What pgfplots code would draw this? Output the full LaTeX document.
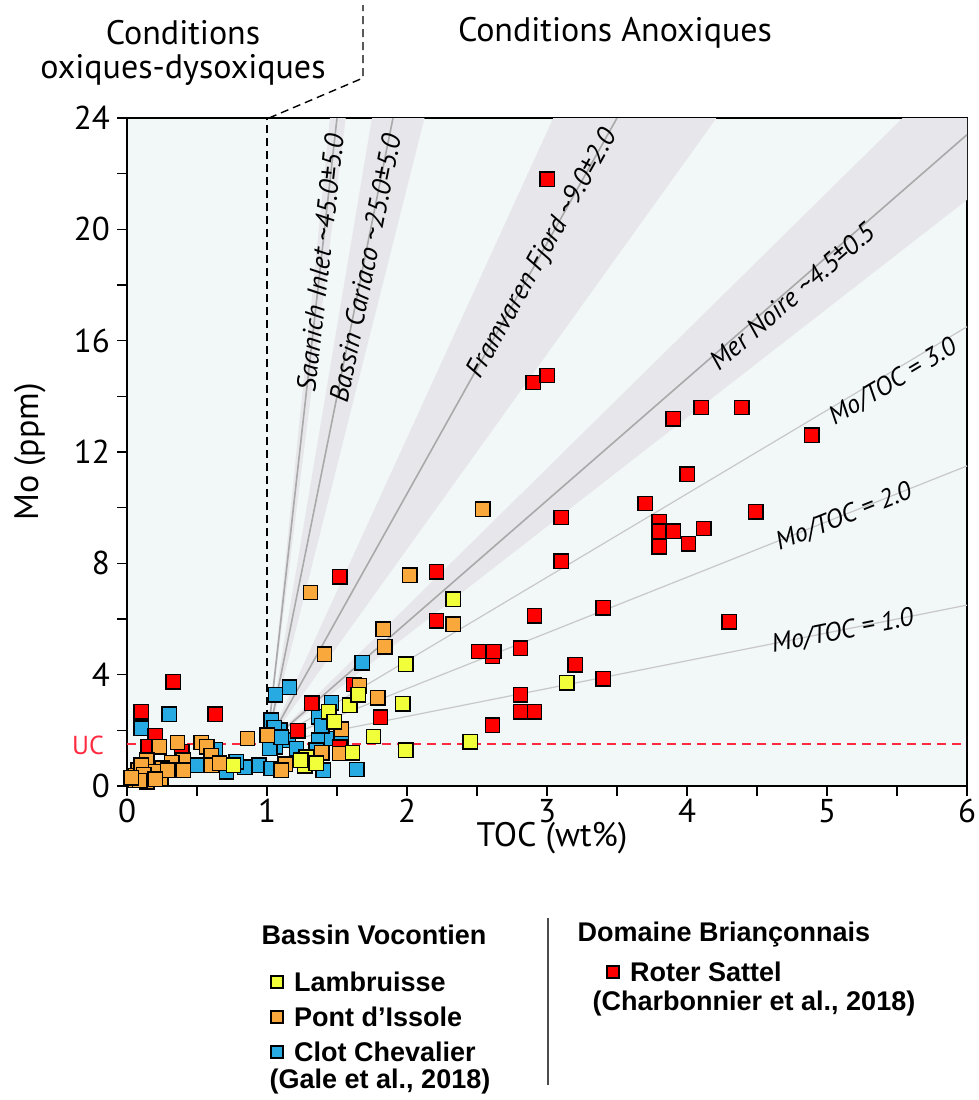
\documentclass[border=0pt]{standalone}
\usepackage{fontspec}
\setmainfont{PT Sans}
\newfontfamily\legfont{Liberation Sans}
\usepackage{pgfplots}
\pgfplotsset{compat=1.18}
\definecolor{bgc}{HTML}{F2F7F7}
\definecolor{bandc}{HTML}{E7E6EB}
\definecolor{linec}{HTML}{A9A9A9}
\definecolor{ratioc}{HTML}{C8C8C8}
\definecolor{cyel}{HTML}{F0FF3A}
\definecolor{corg}{HTML}{F9A93B}
\definecolor{cblu}{HTML}{27A9E1}
\definecolor{cred}{HTML}{FF0000}
\definecolor{ucred}{HTML}{FF2A3F}
\newcommand\fs[1]{\fontsize{#1}{#1}\selectfont}

\begin{document}
\begin{tikzpicture}[x=0.5pt,y=-0.5pt]
\useasboundingbox (0,0) rectangle (979,1100);
\begin{axis}[
  at={(63.5pt,-393pt)}, anchor=south west,
  scale only axis, width=420pt, height=334pt,
  xmin=0, xmax=6, ymin=0, ymax=24,
  xtick={0,1,...,6}, ytick={0,4,...,24},
  minor xtick={0.5,1.5,...,5.5}, minor ytick={2,6,...,22},
  xtick pos=bottom, ytick pos=left, tick align=outside,
  major tick length=5pt, minor tick length=5pt,
  every tick/.style={black, line width=0.8pt},
  axis line style={line width=1pt},
  axis background/.style={fill=bgc},
  tick label style={font=\fs{16.5}},
  xticklabel style={yshift=2pt},
  /pgf/number format/assume math mode=true,
  clip mode=individual,
]
% reference bands
\addplot[draw=none, fill=bandc] coordinates {(1,1.5) (1.45,24) (1.5625,24)} -- cycle;
\addplot[draw=none, fill=bandc] coordinates {(1,1.5) (1.75,24) (2.125,24)} -- cycle;
\addplot[draw=none, fill=bandc] coordinates {(1,1.5) (3.045,24) (4.21,24)} -- cycle;
\addplot[draw=none, fill=bandc] coordinates {(1,1.5) (5.54,24) (6,24) (6,21.06)} -- cycle;
% reference lines
\addplot[linec, line width=0.8pt] coordinates {(1,1.5) (1.5,24)};
\addplot[linec, line width=0.8pt] coordinates {(1,1.5) (1.9,24)};
\addplot[linec, line width=0.8pt] coordinates {(1,1.5) (3.5,24)};
\addplot[linec, line width=0.8pt] coordinates {(1,1.5) (6,23.4)};
\addplot[ratioc, line width=0.6pt] coordinates {(1,1.5) (6,16.5)};
\addplot[ratioc, line width=0.6pt] coordinates {(1,1.5) (6,11.5)};
\addplot[ratioc, line width=0.6pt] coordinates {(1,1.5) (6,6.5)};
% UC and boundary
\addplot[ucred, line width=0.8pt, dash pattern=on 4.5pt off 3pt] coordinates {(0,1.5) (6,1.5)};
\addplot[black, line width=0.7pt, dash pattern=on 4pt off 2.5pt] coordinates {(1,1.5) (1,24)};
% Clot Chevalier
\addplot[only marks, mark=square*, mark size=3.6pt, mark options={fill=cblu, draw=black, line width=0.7pt}] coordinates {
(1.68,4.42) (1.16,3.55) (1.06,3.27) (1.46,2.99) (1.37,2.49) (1.03,2.37) (1.09,2.01)
(1.15,1.65) (1.06,1.41) (1.37,1.65) (1.46,1.71) (0.94,0.75) (1.03,0.63) (1.40,0.57)
(1.64,0.59) (1.21,1.35) (1.35,1.29) (1.53,1.65) (1.39,2.16) (1.02,1.35) (0.30,2.58)
(0.10,2.07) (0.50,0.75) (0.71,0.51) (0.84,0.67) (0.78,0.87) (0.63,1.30) (1.05,2.10)
(1.10,1.75)};
% Roter Sattel
\addplot[only marks, mark=square*, mark size=3.6pt, mark options={fill=cred, draw=black, line width=0.7pt}] coordinates {
(3.0,21.8) (2.90,14.5) (3.0,14.75) (3.90,13.2) (4.10,13.6) (4.39,13.6) (4.89,12.6)
(4.0,11.2) (3.70,10.15) (3.80,9.5) (3.80,9.15) (3.90,9.15) (4.12,9.25) (3.80,8.6)
(4.01,8.7) (4.49,9.85) (3.40,6.4) (4.30,5.9) (3.40,3.85) (3.10,9.65) (3.10,8.08)
(2.91,6.12) (2.21,7.69) (1.52,7.51) (2.21,5.93) (2.51,4.83) (2.61,4.65) (2.62,4.83)
(2.81,4.95) (3.20,4.35) (2.81,3.27) (2.81,2.67) (2.91,2.67) (2.61,2.19) (1.62,3.65)
(1.32,2.97) (1.81,2.47) (1.22,1.99) (1.52,1.39) (0.33,3.75) (0.10,2.67) (0.63,2.58)
(0.20,1.80) (0.15,1.41) (0.39,1.23)};
% Pont d'Issole
\addplot[only marks, mark=square*, mark size=3.6pt, mark options={fill=corg, draw=black, line width=0.7pt}] coordinates {
(2.54,9.95) (2.02,7.58) (1.31,6.95) (2.33,5.81) (1.83,5.64) (1.84,5.0) (1.41,4.73)
(1.66,3.60) (1.79,3.17) (1.00,1.82) (1.53,2.04) (1.39,1.20) (1.52,1.17) (1.13,0.79)
(1.10,0.57) (0.86,1.71) (0.53,1.56) (0.57,1.41) (0.36,1.56) (0.23,1.41) (0.60,1.08)
(0.60,0.75) (0.66,0.82) (0.40,0.93) (0.32,0.84) (0.14,0.93) (0.25,0.64) (0.08,0.57)
(0.06,0.36) (0.16,0.33) (0.24,0.28) (0.19,0.51) (0.29,0.57) (0.10,0.75) (0.14,0.15)
(0.40,0.57) (0.06,0.20) (0.12,0.40) (0.20,0.25) (0.09,0.20) (0.03,0.30)};
% Lambruisse
\addplot[only marks, mark=square*, mark size=3.6pt, mark options={fill=cyel, draw=black, line width=0.7pt}] coordinates {
(2.33,6.71) (1.99,4.38) (3.14,3.71) (1.97,2.95) (2.45,1.59) (1.99,1.29) (1.59,2.91)
(1.65,3.27) (1.44,2.66) (1.48,2.30) (1.76,1.78) (1.61,1.20) (1.28,1.03) (1.27,0.72)
(1.35,0.82) (0.76,0.75) (1.24,0.93)};
% line labels
\node[rotate=83.6, font=\itshape\fs{13.5}] at (axis cs:1.38,18.8) {Saanich Inlet \textasciitilde45.0±5.0};
\node[rotate=78.6, font=\itshape\fs{13.5}] at (axis cs:1.70,18.6) {Bassin Cariaco \textasciitilde25.0±5.0};
\node[rotate=60.8, font=\itshape\fs{13.5}] at (axis cs:2.97,19.1) {Framvaren Fjord \textasciitilde9.0±2.0};
\node[rotate=41, font=\itshape\fs{13.5}] at (axis cs:4.75,17.6) {Mer Noire \textasciitilde4.5±0.5};
\node[rotate=30.8, font=\itshape\fs{13}] at (axis cs:5.47,14.5) {Mo/TOC = 3.0};
\node[rotate=21.7, font=\itshape\fs{13}] at (axis cs:5.12,9.65) {Mo/TOC = 2.0};
\node[rotate=11.2, font=\itshape\fs{13}] at (axis cs:5.11,5.55) {Mo/TOC = 1.0};
\end{axis}
% outside annotations
\draw[line width=0.7pt, dash pattern=on 4pt off 2.5pt] (269,118) -- (363,78) -- (363,5);
\node[font=\fs{17}] at (183,33) {Conditions};
\node[font=\fs{17}] at (183,70) {oxiques-dysoxiques};
\node[font=\fs{17}] at (615,33) {Conditions Anoxiques};
\node[font=\fs{17}, rotate=90] at (30,452) {Mo (ppm)};
\node[font=\fs{17}] at (552,838) {TOC (wt\%)};
\node[font=\fs{13}, text=ucred] at (88,745) {UC};
% legend
\begin{scope}[font=\legfont\bfseries\fs{13.5}]
\node at (374,935) {Bassin Vocontien};
\node[draw=black, fill=cyel, minimum size=6pt, inner sep=0pt, line width=0.6pt] at (277,982) {};
\node[anchor=west] at (287,982) {Lambruisse};
\node[draw=black, fill=corg, minimum size=6pt, inner sep=0pt, line width=0.6pt] at (277,1017) {};
\node[anchor=west] at (287,1017) {Pont d’Issole};
\node[draw=black, fill=cblu, minimum size=6pt, inner sep=0pt, line width=0.6pt] at (277,1052) {};
\node[anchor=west] at (287,1052) {Clot Chevalier};
\node at (380,1082) {(Gale et al., 2018)};
\draw[line width=0.6pt, black!70] (548,918) -- (548,1085);
\node at (724,935) {Domaine Briançonnais};
\node[draw=black, fill=cred, minimum size=6pt, inner sep=0pt, line width=0.6pt] at (613,972) {};
\node[anchor=west] at (623,972) {Roter Sattel};
\node at (754,1004) {(Charbonnier et al., 2018)};
\end{scope}
\end{tikzpicture}
\end{document}
